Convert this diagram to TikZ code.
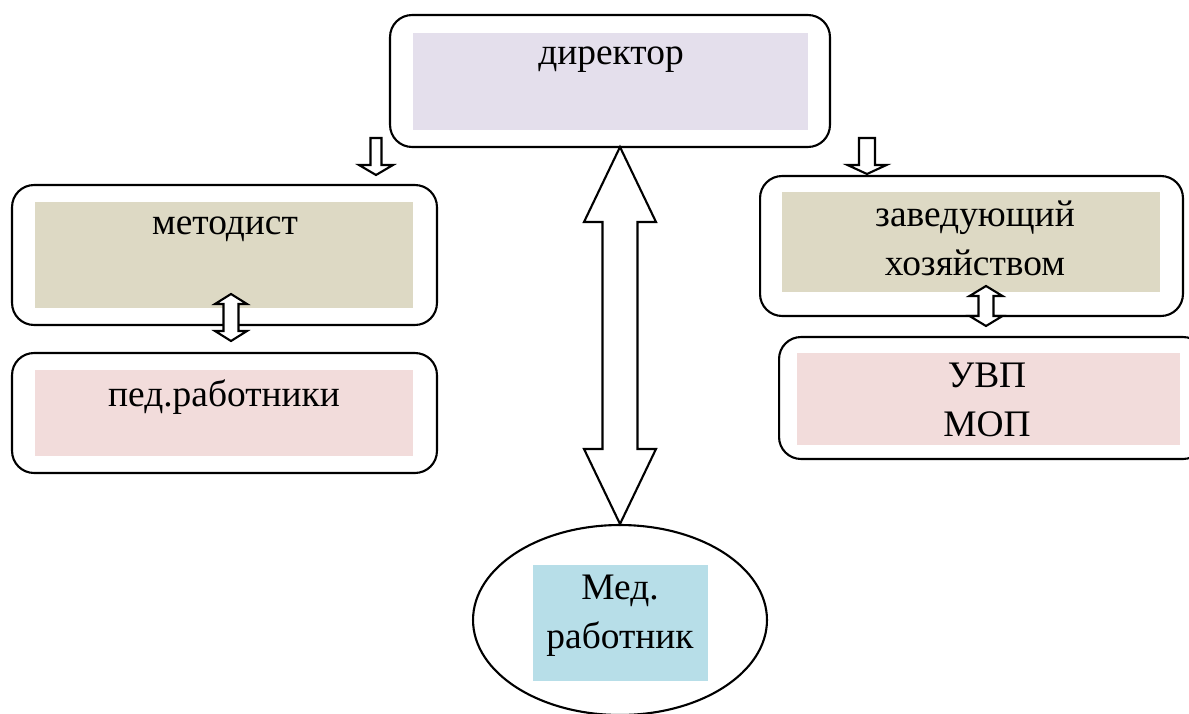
\documentclass[tikz,border=0pt]{standalone}
\usepackage{fontspec}
\setmainfont{Liberation Serif}
\usepackage{xcolor}
\usetikzlibrary{calc,shapes.geometric}

\definecolor{lavfill}{RGB}{228,223,236}
\definecolor{khakifill}{RGB}{221,217,196}
\definecolor{pinkfill}{RGB}{242,220,219}
\definecolor{bluefill}{RGB}{183,222,232}

\newcommand\downarrowbox[5]{%
  \draw[arr] ($(#1)+(-#3,0)$) -- ($(#1)+(#3,0)$) -- ($(#2)+(#3,-#5)$) -- ($(#2)+(#4,-#5)$) -- (#2)
    -- ($(#2)+(-#4,-#5)$) -- ($(#2)+(-#3,-#5)$) -- cycle;}
\newcommand\updownarrowbox[5]{%
  \draw[arr] (#1) -- ($(#1)+(#4,#5)$) -- ($(#1)+(#3,#5)$) -- ($(#2)+(#3,-#5)$) -- ($(#2)+(#4,-#5)$) -- (#2)
    -- ($(#2)+(-#4,-#5)$) -- ($(#2)+(-#3,-#5)$) -- ($(#1)+(-#3,#5)$) -- ($(#1)+(-#4,#5)$) -- cycle;}

\begin{document}
\begin{tikzpicture}[x=0.02cm,y=-0.02cm,
  box/.style={draw,line width=1.2pt,rounded corners=0.44cm,inner sep=0pt,outer sep=0pt},
  fillbox/.style={inner sep=0pt,outer sep=0pt},
  lbl/.style={font=\fontsize{21.3}{27.8}\selectfont,inner sep=0pt,align=center},
  arr/.style={draw,line width=1.2pt,fill=white,line join=miter}]
  \clip (0,0) rectangle (1189,713);
  \fill[white] (0,0) rectangle (1189,713);

  \node[box,minimum width=8.8cm,minimum height=2.64cm] (dirbox) at (610,81) {};
  \node[fillbox,fill=lavfill,minimum width=7.9cm,minimum height=1.94cm] (dirin) at (610.5,81.5) {};
  \node[lbl,anchor=base] (dirtxt) at (611,65) {директор};

  \node[box,minimum width=8.5cm,minimum height=2.8cm] (metbox) at (224.5,255) {};
  \node[fillbox,fill=khakifill,minimum width=7.56cm,minimum height=2.12cm] (metin) at (224,255) {};
  \node[lbl,anchor=base] (mettxt) at (225,234) {методист};

  \node[box,minimum width=8.5cm,minimum height=2.4cm] (pedbox) at (224.5,413) {};
  \node[fillbox,fill=pinkfill,minimum width=7.56cm,minimum height=1.72cm] (pedin) at (224,413) {};
  \node[lbl,anchor=base] (pedtxt) at (224,406) {пед.работники};

  \node[box,minimum width=8.46cm,minimum height=2.8cm] (zavbox) at (971.5,246) {};
  \node[fillbox,fill=khakifill,minimum width=7.56cm,minimum height=2.0cm] (zavin) at (971,242) {};
  \node[lbl,anchor=base] (zavtxt) at (975,275) {заведующий\\хозяйством};

  \node[box,minimum width=8.52cm,minimum height=2.44cm] (uvpbox) at (992,398) {};
  \node[fillbox,fill=pinkfill,minimum width=7.66cm,minimum height=1.84cm] (uvpin) at (988.5,399) {};
  \node[lbl,anchor=base] (uvptxt) at (987,436) {УВП\\МОП};

  \node[draw,ellipse,line width=1.2pt,inner sep=0pt,minimum width=5.88cm,minimum height=3.8cm] (med) at (620,620) {};
  \node[fillbox,fill=bluefill,minimum width=3.5cm,minimum height=2.32cm] (medin) at (620.5,623) {};
  \node[lbl,anchor=base] (medtxt) at (620,648) {Мед.\\работник};

  \coordinate (ltop) at (376,138);
  \coordinate (ltip) at (376,175);
  \coordinate (rtop) at (867,138);
  \coordinate (rtip) at (867,174);
  \coordinate (mtop) at (231,294);
  \coordinate (mbot) at (231,341);
  \coordinate (ztop) at (986,286);
  \coordinate (zbot) at (986,326);

  \downarrowbox{ltop}{ltip}{5.5}{17}{10}
  \downarrowbox{rtop}{rtip}{8}{19.5}{9}
  \updownarrowbox{mtop}{mbot}{7.5}{16}{10}
  \updownarrowbox{ztop}{zbot}{7.5}{16.5}{10}
  \updownarrowbox{med.north |- dirbox.south}{med.north}{17.5}{36}{75}
\end{tikzpicture}
\end{document}
